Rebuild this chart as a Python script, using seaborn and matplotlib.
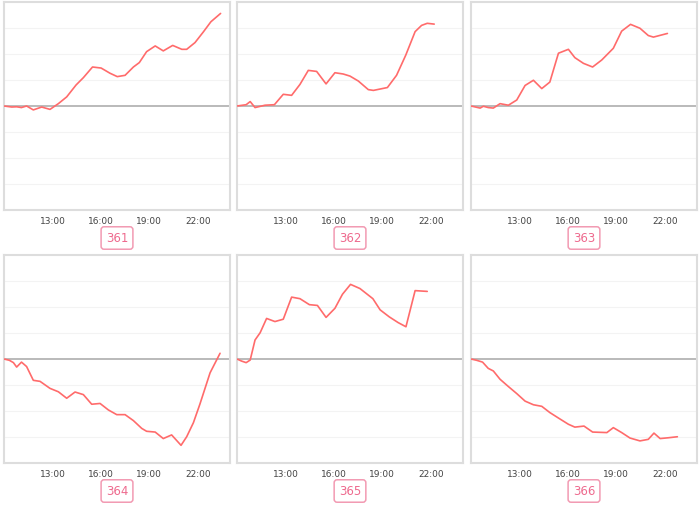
import pandas as pd
import matplotlib
matplotlib.use("Agg")
import matplotlib.pyplot as plt
import seaborn as sns

# Etiquetas de cada panel
labels = ["361", "362", "363", "364", "365", "366"]

times_361 = ["10:00", "10:29", "10:47", "11:05", "11:24", "11:49", "12:20", "12:51", "13:22", "13:53",
             "14:28", "14:55", "15:29", "16:01", "16:34", "17:01", "17:30", "18:01", "18:23", "18:50",
             "19:22", "19:52", "20:27", "21:01", "21:19", "21:50", "22:21", "22:49", "23:25"]
values_361 = [0, -0.04, -0.03, -0.06, 0, -0.15, -0.04, -0.13, 0.09, 0.35,
              0.81, 1.09, 1.5, 1.46, 1.26, 1.13, 1.18, 1.5, 1.67, 2.09,
              2.31, 2.12, 2.33, 2.18, 2.18, 2.44, 2.85, 3.24, 3.56]

times_362 = ["10:00", "10:34", "10:49", "11:07", "11:44", "12:19", "12:52", "13:23", "13:54", "14:25",
             "14:56", "15:31", "16:04", "16:35", "17:00", "17:31", "18:08", "18:27", "19:19", "19:53",
             "20:27", "21:02", "21:26", "21:47", "22:13"]
values_362 = [0, 0.05, 0.17, -0.06, 0.03, 0.05, 0.45, 0.41, 0.83, 1.37,
              1.33, 0.85, 1.28, 1.23, 1.15, 0.96, 0.63, 0.60, 0.71, 1.18,
              1.95, 2.86, 3.10, 3.18, 3.15]

times_363 = ["10:00", "10:34", "10:46", "11:04", "11:23", "11:48", "12:19", "12:50", "13:21", "13:52",
             "14:23", "14:53", "15:25", "16:02", "16:26", "16:58", "17:32", "18:06", "18:49", "19:20",
             "19:53", "20:28", "20:59", "21:18", "22:10"]
values_363 = [0, -0.08, -0.01, -0.06, -0.08, 0.09, 0.03, 0.23, 0.79, 0.99,
              0.67, 0.92, 2.03, 2.18, 1.86, 1.64, 1.50, 1.77, 2.22, 2.88,
              3.14, 2.99, 2.71, 2.65, 2.79]

times_364 = ["10:00", "10:20", "10:35", "10:47", "11:05", "11:24", "11:49", "12:14", "12:51", "13:22",
             "13:53", "14:24", "14:55", "15:26", "15:57", "16:28", "16:59", "17:30", "18:01", "18:32",
             "18:50", "19:22", "19:52", "20:23", "20:58", "21:19", "21:44", "22:08", "22:46", "23:23"]
values_364 = [0, -0.05, -0.14, -0.31, -0.12, -0.29, -0.82, -0.86, -1.13, -1.26,
              -1.51, -1.27, -1.37, -1.74, -1.71, -1.96, -2.14, -2.14, -2.37, -2.67,
              -2.78, -2.81, -3.06, -2.92, -3.32, -2.99, -2.45, -1.74, -0.53, 0.22]

times_365 = ["10:00", "10:17", "10:34", "10:49", "11:07", "11:26", "11:50", "12:21", "12:52", "13:23",
             "13:54", "14:29", "14:59", "15:31", "16:04", "16:32", "17:02", "17:37", "18:25", "18:52",
             "19:26", "19:59", "20:28", "21:02", "21:47"]
values_365 = [0, -0.08, -0.14, -0.04, 0.73, 1.01, 1.56, 1.44, 1.53, 2.38,
              2.32, 2.09, 2.06, 1.60, 1.95, 2.49, 2.87, 2.71, 2.32, 1.89,
              1.62, 1.40, 1.24, 2.63, 2.60]

times_366 = ["10:00", "10:21", "10:43", "11:04", "11:23", "11:48", "12:19", "12:50", "13:21", "13:52",
             "14:23", "14:53", "15:28", "16:02", "16:26", "17:00", "17:32", "18:25", "18:49", "19:20",
             "19:51", "20:28", "20:59", "21:20", "21:43", "22:13", "22:47"]
values_366 = [0, -0.05, -0.12, -0.36, -0.46, -0.78, -1.06, -1.33, -1.62, -1.76,
              -1.82, -2.06, -2.29, -2.51, -2.62, -2.58, -2.81, -2.83, -2.64, -2.83,
              -3.04, -3.15, -3.09, -2.85, -3.06, -3.03, -2.99]

tick_labels = ["13:00", "16:00", "19:00", "22:00"]

series = [(times_361, values_361), (times_362, values_362), (times_363, values_363),
          (times_364, values_364), (times_365, values_365), (times_366, values_366)]


def to_hours(t):
    h, m = t.split(":")
    return int(h) + int(m) / 60


sns.set_style("white")
fig = plt.figure(figsize=(7, 5.06), dpi=100)

W, H = 700, 506
lefts = [4, 237, 471]
tops = [3, 256]
pw, ph = 226, 208
line_color = "#ff6b6b"

for i, (times, vals) in enumerate(series):
    r, c = divmod(i, 3)
    x0, y0 = lefts[c], tops[r]
    ax = fig.add_axes([x0 / W, 1 - (y0 + ph) / H, pw / W, ph / H])
    df = pd.DataFrame({"hora": [to_hours(t) for t in times], "valor": vals})

    # rejilla muy tenue y linea de cero
    for g in [-3, -2, -1, 1, 2, 3]:
        ax.axhline(g, color="#f3f3f3", lw=0.8, zorder=0)
    ax.axhline(0, color="#b4b4b4", lw=1.3, zorder=1)

    sns.lineplot(data=df, x="hora", y="valor", ax=ax, color=line_color, lw=1.2, zorder=3)

    ax.set_xlim(10, 24)
    ax.set_ylim(-4, 4)
    ax.set_xticks([to_hours(t) for t in tick_labels])
    ax.set_xticklabels(tick_labels)
    ax.set_yticks([])
    ax.set_xlabel("")
    ax.set_ylabel("")
    ax.tick_params(axis="x", length=2, width=0.6, color="#cccccc", pad=2,
                   labelsize=6.5, labelcolor="#444444")
    for s in ax.spines.values():
        s.set_color("#dddddd")
        s.set_linewidth(1.5)

    fig.text((x0 + pw / 2) / W, 1 - (y0 + ph + 28) / H, labels[i],
             ha="center", va="center", fontsize=8.5, color="#ee6a8e",
             bbox=dict(boxstyle="round,pad=0.4,rounding_size=0.25",
                       fc="white", ec="#f29ab2", lw=1.1))

fig.savefig("out.png", dpi=100)
